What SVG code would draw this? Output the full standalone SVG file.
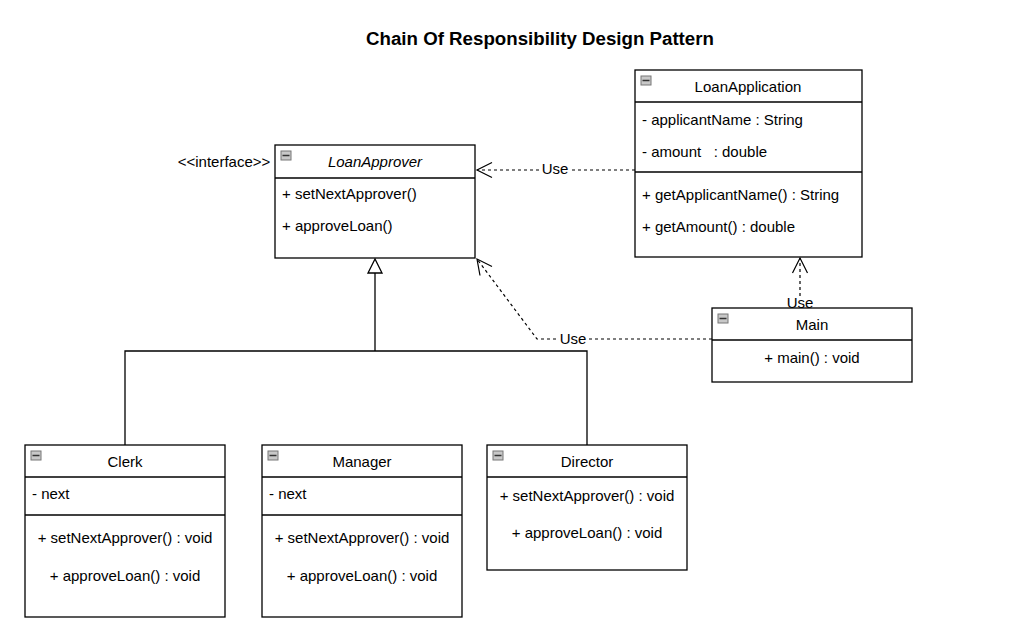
<svg xmlns="http://www.w3.org/2000/svg" width="1031" height="641" viewBox="0 0 1031 641">
<defs>
<style>
text{font-family:"Liberation Sans",Arial,sans-serif;font-size:15px;fill:#000;white-space:pre}
.box{fill:#fff;stroke:#000;stroke-width:1.3}
.div{stroke:#000;stroke-width:1.3;fill:none}
.ic{fill:#c8c8c8;stroke:#777;stroke-width:1}
.icl{stroke:#333;stroke-width:1.5}
.c{text-anchor:middle}
.dash{fill:none;stroke:#000;stroke-width:1.2;stroke-dasharray:3,3}
.line{fill:none;stroke:#000;stroke-width:1.3}
.lbl{fill:#fff}
</style>
<marker id="open" viewBox="0 0 16 16" refX="15" refY="8" markerWidth="16" markerHeight="16" markerUnits="userSpaceOnUse" orient="auto" overflow="visible">
<path d="M0,0.5 L15,8 L0,15.5" fill="none" stroke="#000" stroke-width="1.2"/>
</marker>
<symbol id="icon" overflow="visible">
<rect class="ic" x="0" y="0" width="10" height="9"/>
<line class="icl" x1="1.5" y1="4.5" x2="8.5" y2="4.5"/>
</symbol>
</defs>
<rect width="1031" height="641" fill="#fff"/>
<text x="540" y="45" class="c" style="font-weight:bold;font-size:18.7px">Chain Of Responsibility Design Pattern</text>

<g id="connectors">
<polygon points="375,259 368,273 382,273" fill="#fff" stroke="#000" stroke-width="1.3"/>
<polyline class="line" points="375,273 375,351"/>
<polyline class="line" points="125,445 125,351 587,351 587,445"/>
<path class="dash" d="M635,170 L477,170" marker-end="url(#open)"/>
<rect class="lbl" x="541" y="161" width="28" height="16"/>
<text x="555" y="174" class="c">Use</text>
<path class="dash" d="M712,339 L537,339 L477,259" marker-end="url(#open)"/>
<rect class="lbl" x="559" y="331" width="28" height="16"/>
<text x="573" y="344" class="c">Use</text>
<path class="dash" d="M800,308 L800,258" marker-end="url(#open)"/>
<rect class="lbl" x="787" y="296" width="27" height="12"/>
<text x="800" y="308" class="c">Use</text>
</g>

<g id="LoanApprover">
<rect class="box" x="275" y="145" width="200" height="113"/>
<line class="div" x1="275" y1="178" x2="475" y2="178"/>
<use href="#icon" x="281" y="151"/>
<text x="224" y="167" class="c">&lt;&lt;interface&gt;&gt;</text>
<text x="375" y="167" class="c" style="font-style:italic">LoanApprover</text>
<text x="282" y="199">+ setNextApprover()</text>
<text x="282" y="231">+ approveLoan()</text>
</g>

<g id="LoanApplication">
<rect class="box" x="635" y="70" width="227" height="187"/>
<line class="div" x1="635" y1="102" x2="862" y2="102"/>
<line class="div" x1="635" y1="172" x2="862" y2="172"/>
<use href="#icon" x="641" y="76"/>
<text x="748" y="92" class="c">LoanApplication</text>
<text x="642" y="125">- applicantName : String</text>
<text x="642" y="157">- amount   : double</text>
<text x="642" y="200">+ getApplicantName() : String</text>
<text x="642" y="232">+ getAmount() : double</text>
</g>

<g id="Main">
<rect class="box" x="712" y="308" width="200" height="74"/>
<line class="div" x1="712" y1="340" x2="912" y2="340"/>
<use href="#icon" x="718" y="314"/>
<text x="812" y="330" class="c">Main</text>
<text x="812" y="363" class="c">+ main() : void</text>
</g>

<g id="Clerk">
<rect class="box" x="25" y="445" width="200" height="172"/>
<line class="div" x1="25" y1="477" x2="225" y2="477"/>
<line class="div" x1="25" y1="515" x2="225" y2="515"/>
<use href="#icon" x="31" y="451"/>
<text x="125" y="467" class="c">Clerk</text>
<text x="32" y="499">- next</text>
<text x="125" y="543" class="c">+ setNextApprover() : void</text>
<text x="125" y="581" class="c">+ approveLoan() : void</text>
</g>

<g id="Manager">
<rect class="box" x="262" y="445" width="200" height="172"/>
<line class="div" x1="262" y1="477" x2="462" y2="477"/>
<line class="div" x1="262" y1="515" x2="462" y2="515"/>
<use href="#icon" x="268" y="451"/>
<text x="362" y="467" class="c">Manager</text>
<text x="269" y="499">- next</text>
<text x="362" y="543" class="c">+ setNextApprover() : void</text>
<text x="362" y="581" class="c">+ approveLoan() : void</text>
</g>

<g id="Director">
<rect class="box" x="487" y="445" width="200" height="125"/>
<line class="div" x1="487" y1="477" x2="687" y2="477"/>
<use href="#icon" x="493" y="451"/>
<text x="587" y="467" class="c">Director</text>
<text x="587" y="501" class="c">+ setNextApprover() : void</text>
<text x="587" y="538" class="c">+ approveLoan() : void</text>
</g>
</svg>
